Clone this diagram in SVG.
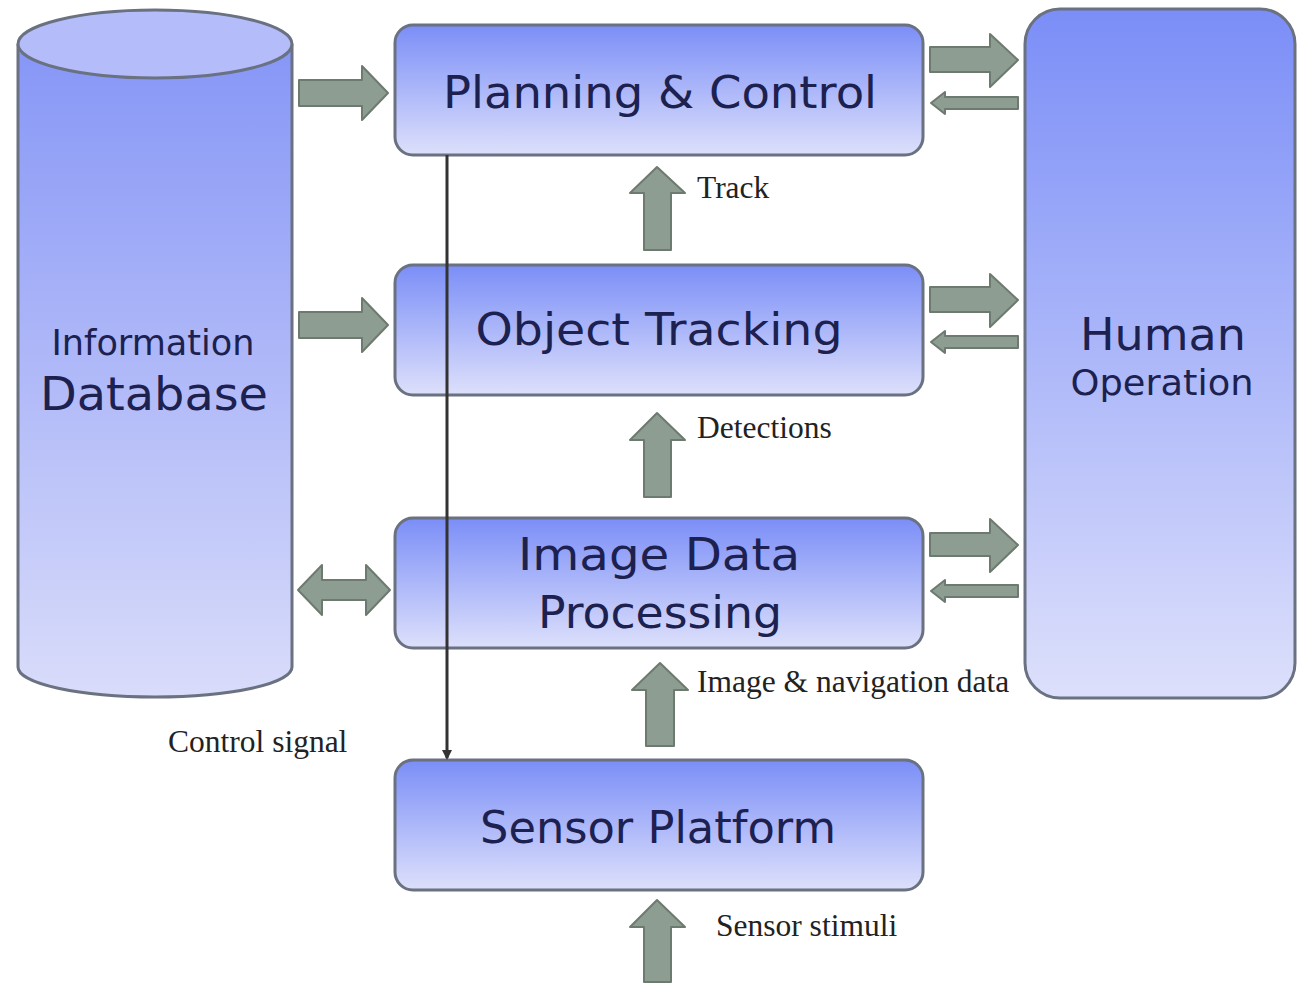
<svg xmlns="http://www.w3.org/2000/svg" width="1297" height="988" viewBox="0 0 1297 988">
<defs>
<linearGradient id="gBox" x1="0" y1="0" x2="0" y2="1">
<stop offset="0" stop-color="#7b8ef7"/>
<stop offset="1" stop-color="#dde0fb"/>
</linearGradient>
<linearGradient id="gCyl" x1="0" y1="0" x2="0" y2="1">
<stop offset="0" stop-color="#8696f6"/>
<stop offset="1" stop-color="#d9dcfa"/>
</linearGradient>
<marker id="ah" markerWidth="10" markerHeight="10" refX="8" refY="5" orient="auto" markerUnits="userSpaceOnUse">
<path d="M0,0 L10,5 L0,10 z" fill="#333"/>
</marker>
</defs>
<style>
.box{fill:url(#gBox);stroke:#6a7180;stroke-width:3}
.cyl{fill:url(#gCyl);stroke:#6a7180;stroke-width:3}
.blk{fill:#8e9d91;stroke:#6d7a6f;stroke-width:2;stroke-linejoin:round}
.t{font-family:"DejaVu Sans",sans-serif;fill:#1c2150;text-anchor:middle}
.l{font-family:"Liberation Serif",serif;fill:#222;font-size:31.5px}
</style>
<rect width="1297" height="988" fill="#ffffff"/>

<g id="database">
<path class="cyl" d="M18,44 L18,667 A137,30 0 0 0 292,667 L292,44"/>
<ellipse cx="155" cy="44" rx="137" ry="34" fill="#b4bdfa" stroke="#6a7180" stroke-width="3"/>
<text class="t" x="153" y="355" font-size="35" textLength="203" lengthAdjust="spacingAndGlyphs">Information</text>
<text class="t" x="154" y="410" font-size="46" textLength="228" lengthAdjust="spacingAndGlyphs">Database</text>
</g>

<g id="planning">
<rect class="box" x="395" y="25" width="528" height="130" rx="18"/>
<text class="t" x="660" y="108" font-size="45" textLength="434" lengthAdjust="spacingAndGlyphs">Planning &amp; Control</text>
</g>

<g id="tracking">
<rect class="box" x="395" y="265" width="528" height="130" rx="18"/>
<text class="t" x="659" y="345" font-size="45" textLength="367" lengthAdjust="spacingAndGlyphs">Object Tracking</text>
</g>

<g id="imageproc">
<rect class="box" x="395" y="518" width="528" height="130" rx="18"/>
<text class="t" x="659" y="570" font-size="45" textLength="282" lengthAdjust="spacingAndGlyphs">Image Data</text>
<text class="t" x="660" y="628" font-size="45" textLength="244" lengthAdjust="spacingAndGlyphs">Processing</text>
</g>

<g id="sensor">
<rect class="box" x="395" y="760" width="528" height="130" rx="18"/>
<text class="t" x="658" y="843" font-size="45" textLength="356" lengthAdjust="spacingAndGlyphs">Sensor Platform</text>
</g>

<g id="human">
<rect class="box" x="1025" y="9" width="270" height="689" rx="35"/>
<text class="t" x="1163" y="350" font-size="44" textLength="166" lengthAdjust="spacingAndGlyphs">Human</text>
<text class="t" x="1162" y="395" font-size="35" textLength="183" lengthAdjust="spacingAndGlyphs">Operation</text>
</g>

<g id="connectors">
<path class="blk" d="M299,80 H362 V66 L388,93 L362,120 V106 H299 Z"/>
<path class="blk" d="M299,312 H362 V298 L388,325 L362,352 V338 H299 Z"/>
<path class="blk" d="M298,590 L322,565 V580 H366 V565 L390,590 L366,615 V600 H322 V615 Z"/>
<path class="blk" d="M930,47 H990 V34 L1018,60 L990,87 V72 H930 Z"/>
<path class="blk" d="M1018,97 H945 V92 L931,103 L945,114 V109 H1018 Z"/>
<path class="blk" d="M930,287 H990 V274 L1018,300 L990,327 V312 H930 Z"/>
<path class="blk" d="M1018,336 H945 V331 L931,342 L945,353 V348 H1018 Z"/>
<path class="blk" d="M930,533 H990 V519 L1018,545 L990,572 V556 H930 Z"/>
<path class="blk" d="M1018,585 H945 V580 L931,591 L945,602 V597 H1018 Z"/>
<path class="blk" d="M644,250 V193 H630 L657,167 L685,193 H671 V250 Z"/>
<path class="blk" d="M644,497 V440 H630 L657,413 L685,440 H671 V497 Z"/>
<path class="blk" d="M646,746 V690 H632 L660,663 L688,690 H674 V746 Z"/>
<path class="blk" d="M644,982 V927 H630 L657,900 L685,927 H671 V982 Z"/>
<line x1="447" y1="155" x2="447" y2="758" stroke="#333" stroke-width="3" marker-end="url(#ah)"/>
</g>

<g id="labels">
<text class="l" x="697" y="198">Track</text>
<text class="l" x="697" y="438">Detections</text>
<text class="l" x="697" y="692">Image &amp; navigation data</text>
<text class="l" x="168" y="752">Control signal</text>
<text class="l" x="716" y="936">Sensor stimuli</text>
</g>
</svg>
